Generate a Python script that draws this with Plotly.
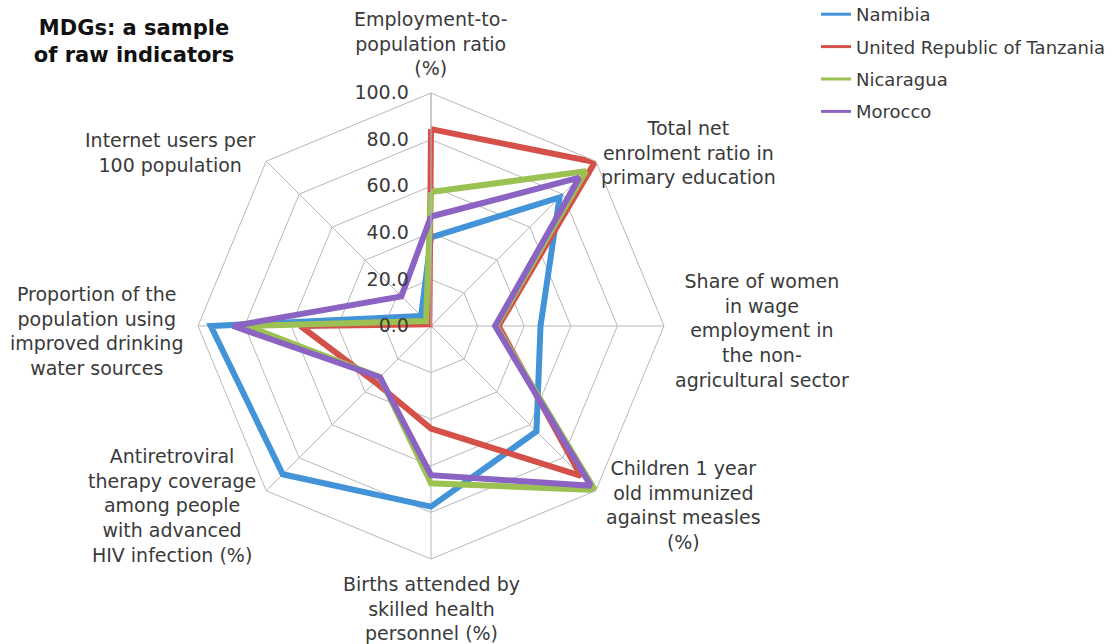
import plotly.graph_objects as go

# Indicator names, clockwise from the top, with the line breaks used on the chart
categories = [
    "Employment-to-<br>population ratio<br>(%)",
    "Total net<br>enrolment ratio in<br>primary education",
    "Share of women<br>in wage<br>employment in<br>the non-<br>agricultural sector",
    "Children 1 year<br>old immunized<br>against measles<br>(%)",
    "Births attended by<br>skilled health<br>personnel (%)",
    "Antiretroviral<br>therapy coverage<br>among people<br>with advanced<br>HIV infection (%)",
    "Proportion of the<br>population using<br>improved drinking<br>water sources",
    "Internet users per<br>100 population",
]

countries = ["Namibia", "United Republic of Tanzania", "Nicaragua", "Morocco"]

namibia = [38.0, 78.0, 47.0, 64.0, 77.5, 90.0, 94.5, 6.0]
tanzania = [84.5, 99.5, 29.0, 91.0, 44.0, 34.0, 56.0, 1.0]
nicaragua = [57.5, 94.0, 28.0, 99.5, 67.5, 31.0, 79.0, 3.0]
morocco = [47.0, 90.0, 27.5, 97.0, 64.0, 31.0, 85.0, 18.0]

series = [namibia, tanzania, nicaragua, morocco]
colors = ["#4393D9", "#D6504A", "#9BC152", "#8B63C2"]

radial_ticks = [0, 20, 40, 60, 80, 100]

W, H = 1120, 644
CX, CY, R = 431, 326, 233  # pixel centre and outer radius of the radar
FONT = "DejaVu Sans"
TXT = "#3a3a3a"
GRID = "#b8b8b8"

fig = go.Figure()
for name, vals, col in zip(countries, series, colors):
    # closed outline for each country
    fig.add_trace(go.Scatterpolar(
        r=vals + vals[:1],
        theta=categories + categories[:1],
        mode="lines",
        name=name,
        legendgroup=name,
        showlegend=False,
        line=dict(color=col, width=6),
        hoverinfo="name+r",
    ))
for name, col in zip(countries, colors):
    # thinner key line shown in the legend
    fig.add_trace(go.Scatterpolar(
        r=[None], theta=[None], mode="lines", name=name,
        legendgroup=name, showlegend=True,
        line=dict(color=col, width=3), hoverinfo="skip",
    ))

# Category labels placed around the octagon
label_pos = [
    (431, 43), (688, 152), (762, 330), (683, 505),
    (431, 608), (172, 505), (96, 331), (170, 153),
]
annotations = []
for text, (px, py) in zip(categories, label_pos):
    annotations.append(dict(
        text=text, x=px / W, y=1 - py / H, xref="paper", yref="paper",
        xanchor="center", yanchor="middle", align="center", showarrow=False,
        font=dict(family=FONT, size=19, color=TXT),
    ))

fig.update_layout(
    width=W, height=H,
    margin=dict(l=0, r=0, t=0, b=0, autoexpand=False),
    paper_bgcolor="white",
    plot_bgcolor="white",
    title=dict(
        text="<b>MDGs: a sample<br>of raw indicators</b>",
        x=134 / W, xanchor="center", y=1 - 35 / H, yanchor="middle",
        font=dict(family=FONT, size=21, color="#111111"),
    ),
    polar=dict(
        domain=dict(x=[(CX - R) / W, (CX + R) / W], y=[(H - CY - R) / H, (H - CY + R) / H]),
        bgcolor="white",
        gridshape="linear",
        radialaxis=dict(
            range=[0, 100], tickvals=radial_ticks, tickformat=".1f",
            angle=90, side="counterclockwise", tickangle=90,
            showline=True, linecolor=GRID, linewidth=1,
            gridcolor=GRID, gridwidth=1,
            ticks="outside", ticklen=15, tickcolor="rgba(0,0,0,0)",
            tickfont=dict(family=FONT, size=19, color=TXT),
        ),
        angularaxis=dict(
            type="category", categoryorder="array", categoryarray=categories,
            direction="clockwise", rotation=90,
            showline=True, linecolor=GRID, linewidth=1,
            gridcolor=GRID, gridwidth=1, ticks="",
            showticklabels=False,
        ),
    ),
    legend=dict(
        x=816 / W, y=1 + 4 / H, xanchor="left", yanchor="top",
        font=dict(family=FONT, size=18, color=TXT),
        tracegroupgap=6, bgcolor="rgba(0,0,0,0)",
    ),
    annotations=annotations,
    showlegend=True,
)

fig.write_html("out.html")
